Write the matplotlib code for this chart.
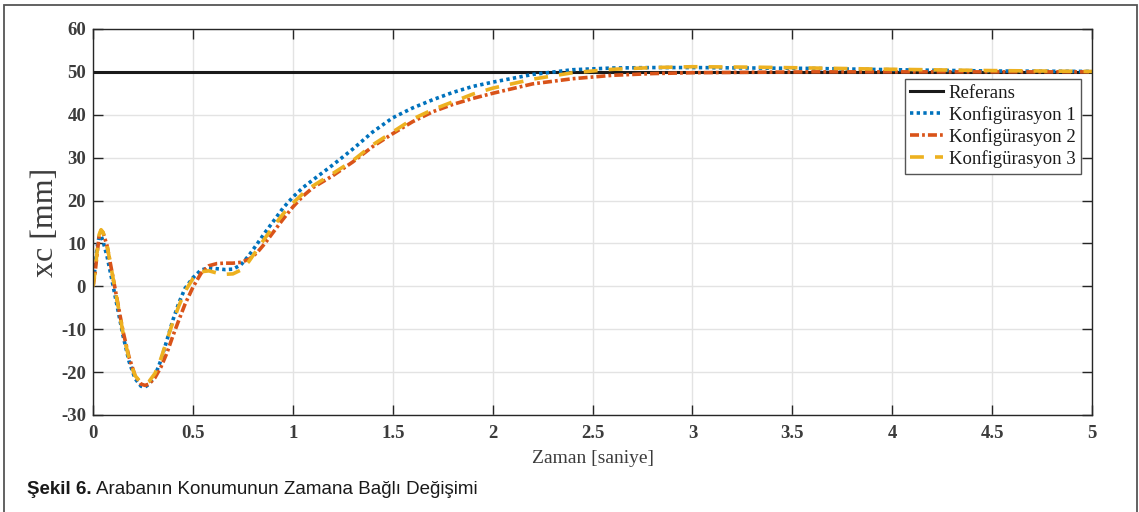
import matplotlib
matplotlib.use('Agg')
import matplotlib.pyplot as plt
from matplotlib.patches import Rectangle

plt.rcParams['axes.unicode_minus'] = False
plt.rcParams['lines.scale_dashes'] = False

# time axis [s]
t = [0, 0.01, 0.02, 0.03, 0.04, 0.05, 0.07, 0.09, 0.12, 0.15, 0.18, 0.21, 0.24, 0.26, 0.28,
     0.31, 0.34, 0.37, 0.40, 0.43, 0.46, 0.50, 0.54, 0.58, 0.62, 0.66, 0.70, 0.74, 0.78, 0.82,
     0.86, 0.90, 0.95, 1.0, 1.05, 1.1, 1.2, 1.3, 1.4, 1.5, 1.6, 1.7, 1.8, 1.9, 2.0, 2.2, 2.4,
     2.6, 2.8, 3.0, 3.3, 3.6, 4.0, 4.5, 5.0]

# reference position
t_ref = [0, 5]
referans = [50, 50]

# cart position xc [mm]
konf1 = [0, 4.5, 9, 11.5, 11.8, 10.5, 7, 2.5, -4.5, -11.5, -17.5, -21.5, -23.3, -23.5, -22.8,
         -20.8, -17.2, -12.5, -7.8, -3.8, -0.5, 2.0, 3.8, 4.3, 4.1, 3.9, 4.0, 5.0, 7.2, 9.8,
         12.5, 15.0, 18.2, 20.8, 23.0, 24.8, 28.3, 32.0, 36.0, 39.3, 41.6, 43.5, 45.2, 46.6, 47.6,
         49.4, 50.5, 50.9, 51.0, 51.0, 50.9, 50.8, 50.5, 50.2, 50.1]
konf2 = [0, 3, 7.5, 11.5, 13.0, 12.5, 9.5, 4.5, -3.0, -10.5, -16.5, -20.8, -22.8, -23.1, -22.8,
         -21.3, -18.8, -15.5, -11.5, -7.8, -4.2, -0.2, 3.0, 4.8, 5.3, 5.4, 5.4, 5.6, 6.3, 7.8,
         10.0, 12.5, 15.6, 18.5, 21.0, 23.0, 25.8, 29.0, 32.6, 35.6, 38.4, 40.7, 42.4, 43.8, 45.0,
         47.2, 48.4, 49.2, 49.6, 49.8, 49.9, 50.0, 50.0, 50.0, 50.0]
konf3 = [0, 3.5, 8, 12, 13.2, 12.6, 9.5, 4.5, -3.2, -10.8, -16.8, -20.8, -22.5, -22.7, -22.2,
         -20.3, -16.8, -12.5, -8.3, -4.5, -1.2, 1.8, 3.4, 3.6, 3.1, 2.8, 2.9, 3.8, 5.8, 8.5,
         11.2, 13.8, 16.8, 19.4, 21.6, 23.4, 26.3, 29.3, 33.0, 36.0, 39.0, 41.2, 43.0, 44.8, 46.2,
         48.3, 49.8, 50.6, 51.0, 51.2, 51.1, 50.9, 50.6, 50.3, 50.1]

labels = ['Referans', 'Konfigürasyon 1', 'Konfigürasyon 2', 'Konfigürasyon 3']
xticks = [0, 0.5, 1, 1.5, 2, 2.5, 3, 3.5, 4, 4.5, 5]
yticks = [-30, -20, -10, 0, 10, 20, 30, 40, 50, 60]

serif = ['Liberation Serif', 'DejaVu Serif']
txt_col = '#3c3c3c'

fig = plt.figure(figsize=(11.39, 5.12), dpi=100)
ax = fig.add_axes([0.0817, 0.1895, 0.8771, 0.7539])

ax.plot(t_ref, referans, color='#1a1a1a', lw=2.2, label=labels[0])
ax.plot(t, konf1, color='#0072BD', lw=2.6, dashes=(2.4, 2.4), label=labels[1])
ax.plot(t, konf2, color='#D95319', lw=2.6, dashes=(6.5, 2.2, 2.0, 2.2), label=labels[2])
ax.plot(t, konf3, color='#EDB120', lw=2.6, dashes=(10, 8), label=labels[3])

ax.set_xlim(0, 5)
ax.set_ylim(-30, 60)
ax.set_xticks(xticks)
ax.set_yticks(yticks)
ax.set_xticklabels([f'{v:g}' for v in xticks])
ax.grid(True, color='#e3e3e3', lw=1)
ax.set_axisbelow(True)

ax.tick_params(direction='in', length=7, width=1, color='#262626',
               top=True, right=True, labelsize=13.5, labelcolor=txt_col)
ax.tick_params(axis='x', pad=7)
ax.tick_params(axis='y', pad=5)
for lab in ax.get_xticklabels() + ax.get_yticklabels():
    lab.set_family(serif)
    lab.set_fontweight('bold')
for s in ax.spines.values():
    s.set_color('#262626')
    s.set_linewidth(1)

ax.set_xlabel('Zaman [saniye]', family=serif, fontsize=14, color=txt_col, labelpad=6)
ax.set_ylabel('xc [mm]', family=serif, fontsize=23, color=txt_col, labelpad=1)

leg = ax.legend(loc='upper right', bbox_to_anchor=(0.989, 0.870), prop={'family': serif, 'size': 13.5},
                frameon=True, fancybox=False, edgecolor='#555555', framealpha=1,
                handlelength=1.75, handletextpad=0.3, labelspacing=0.22, borderpad=0.3,
                borderaxespad=0)
leg.get_frame().set_linewidth(1)
for txt in leg.get_texts():
    txt.set_color('#1a1a1a')

# outer frame around the figure
fig.patches.append(Rectangle((4 / 1139, -0.05), 1133 / 1139, 1.05 - 5 / 512, transform=fig.transFigure,
                             fill=False, edgecolor='#555555', lw=1.3))

# caption
sans = ['Liberation Sans Narrow', 'Liberation Sans', 'DejaVu Sans']
cap1 = fig.text(27 / 1139, 1 - 490 / 512, 'Şekil 6.', family=sans, fontweight='bold',
                fontsize=13.5, va='center', ha='left', color='#1a1a1a')
fig.canvas.draw()
bb = cap1.get_window_extent(fig.canvas.get_renderer())
fig.text(bb.x1 / fig.bbox.width + 4 / 1139, 1 - 490 / 512, 'Arabanın Konumunun Zamana Bağlı Değişimi',
         family=sans, fontsize=13.5, va='center', ha='left', color='#1a1a1a')

fig.savefig('out.png', dpi=100)
